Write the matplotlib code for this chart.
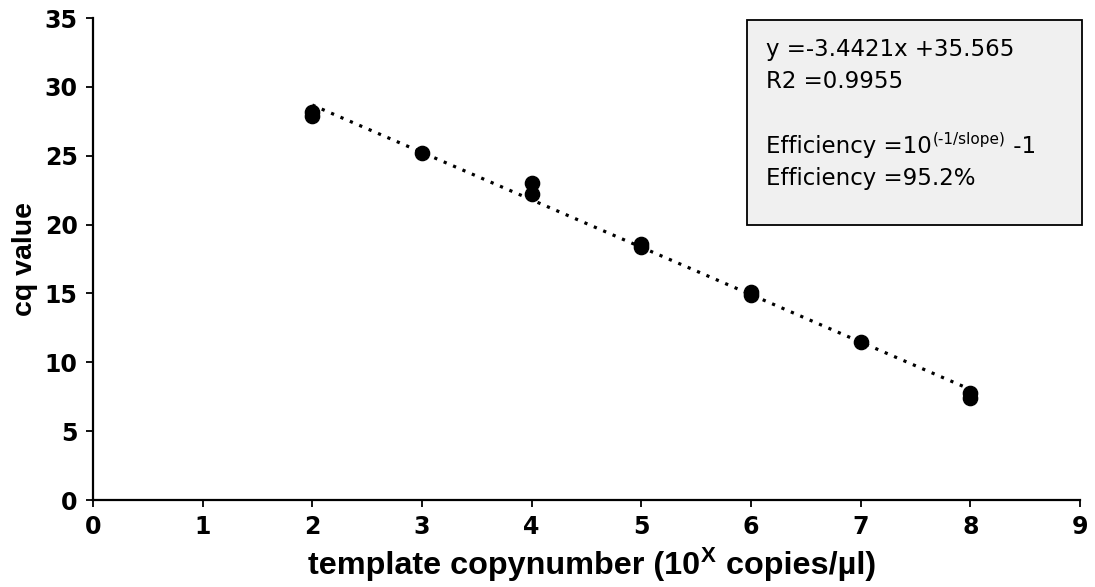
import matplotlib
matplotlib.use("Agg")
import matplotlib.pyplot as plt
from matplotlib.patches import Rectangle
from matplotlib import font_manager
import numpy as np
import os

# data
copy_exp = [2, 2, 3, 4, 4, 5, 5, 6, 6, 7, 8, 8]
cq_values = [27.9, 28.2, 25.2, 23.0, 22.2, 18.6, 18.4, 15.1, 14.9, 11.5, 7.8, 7.4]
slope = -3.4421
intercept = 35.565
fit_x = [2, 8]
x_ticks = [0, 1, 2, 3, 4, 5, 6, 7, 8, 9]
y_ticks = [0, 5, 10, 15, 20, 25, 30, 35]
line1 = "y =-3.4421x +35.565"
line2 = "R2 =0.9955"
eff_pre, eff_sup, eff_post = "Efficiency =10", "(-1/slope)", " -1"
line4 = "Efficiency =95.2%"

# find the regular-width Liberation Sans Bold file
bold_file = None
for f in font_manager.findSystemFonts():
    if os.path.basename(f) == "LiberationSans-Bold.ttf":
        bold_file = f
        break
if bold_file:
    label_fp = font_manager.FontProperties(fname=bold_file)
else:
    label_fp = font_manager.FontProperties(family="DejaVu Sans", weight="bold")

W, H = 1095, 587
fig = plt.figure(figsize=(W / 100, H / 100), dpi=100)
ax = fig.add_axes([93 / W, 1 - 500 / H, (1080 - 93) / W, (500 - 18) / H])

fx = np.array(fit_x, dtype=float)
ax.plot(fx, slope * fx + intercept, color="black", linestyle=(0, (1, 2.2)), lw=2.3, zorder=2)
ax.scatter(copy_exp, cq_values, s=105, color="black", zorder=3)

ax.set_xlim(0, 9)
ax.set_ylim(0, 35)
ax.set_xticks(x_ticks)
ax.set_yticks(y_ticks)
for s in ["top", "right"]:
    ax.spines[s].set_visible(False)
for s in ["left", "bottom"]:
    ax.spines[s].set_linewidth(1.6)
ax.tick_params(direction="out", length=5, width=1.3, labelsize=17, pad=6)
for lab in ax.get_xticklabels() + ax.get_yticklabels():
    lab.set_fontweight("bold")
    lab.set_family("DejaVu Sans")

yl = ax.set_ylabel("cq value", labelpad=5)
yl.set_fontproperties(label_fp)
yl.set_fontsize(20.5)

# x label built from pieces so the superscript uses the same bold face
xl = ax.set_xlabel(" ", labelpad=2)
base_y = 1 - 574 / H
fs_x = 23.3
p1 = fig.text(0, base_y, "template copynumber (10", fontproperties=label_fp, va="baseline")
p1.set_fontsize(fs_x)
p2 = fig.text(0, base_y, "X", fontproperties=label_fp, va="baseline")
p2.set_fontsize(16)
p3 = fig.text(0, base_y, " copies/µl)", fontproperties=label_fp, va="baseline")
p3.set_fontsize(fs_x)
fig.canvas.draw()
r = fig.canvas.get_renderer()
w1 = p1.get_window_extent(r).width
w2 = p2.get_window_extent(r).width
w3 = p3.get_window_extent(r).width
total = w1 + w2 + 2 + w3
cx = 592
start = cx - total / 2
p1.set_x(start / W)
p2.set_x((start + w1 + 1) / W)
p2.set_y(base_y + 12 / H)
p3.set_x((start + w1 + w2 + 2) / W)

# text box
x0, y0, x1, y1 = 747, 20, 1082, 225
fig.patches.append(Rectangle((x0 / W, 1 - y1 / H), (x1 - x0) / W, (y1 - y0) / H,
                             transform=fig.transFigure, facecolor="#f0f0f0",
                             edgecolor="black", linewidth=1.3, zorder=5))
tx = 766 / W
fs = 16.5
kw = dict(fontsize=fs, family="DejaVu Sans", va="baseline", ha="left", zorder=6)
fig.text(tx, 1 - 56 / H, line1, **kw)
fig.text(tx, 1 - 88 / H, line2, **kw)
t_pre = fig.text(tx, 1 - 185 / H + 32 / H, eff_pre, **kw)
fig.text(tx, 1 - 185 / H, line4, **kw)
fig.canvas.draw()
bb = t_pre.get_window_extent(r)
kw_sup = dict(kw)
kw_sup["fontsize"] = 11
t_sup = fig.text(bb.x1 / W + 1 / W, 1 - 185 / H + 32 / H + 9 / H, eff_sup, **kw_sup)
fig.canvas.draw()
bb2 = t_sup.get_window_extent(r)
fig.text(bb2.x1 / W, 1 - 185 / H + 32 / H, eff_post, **kw)

fig.savefig("out.png", dpi=100)
